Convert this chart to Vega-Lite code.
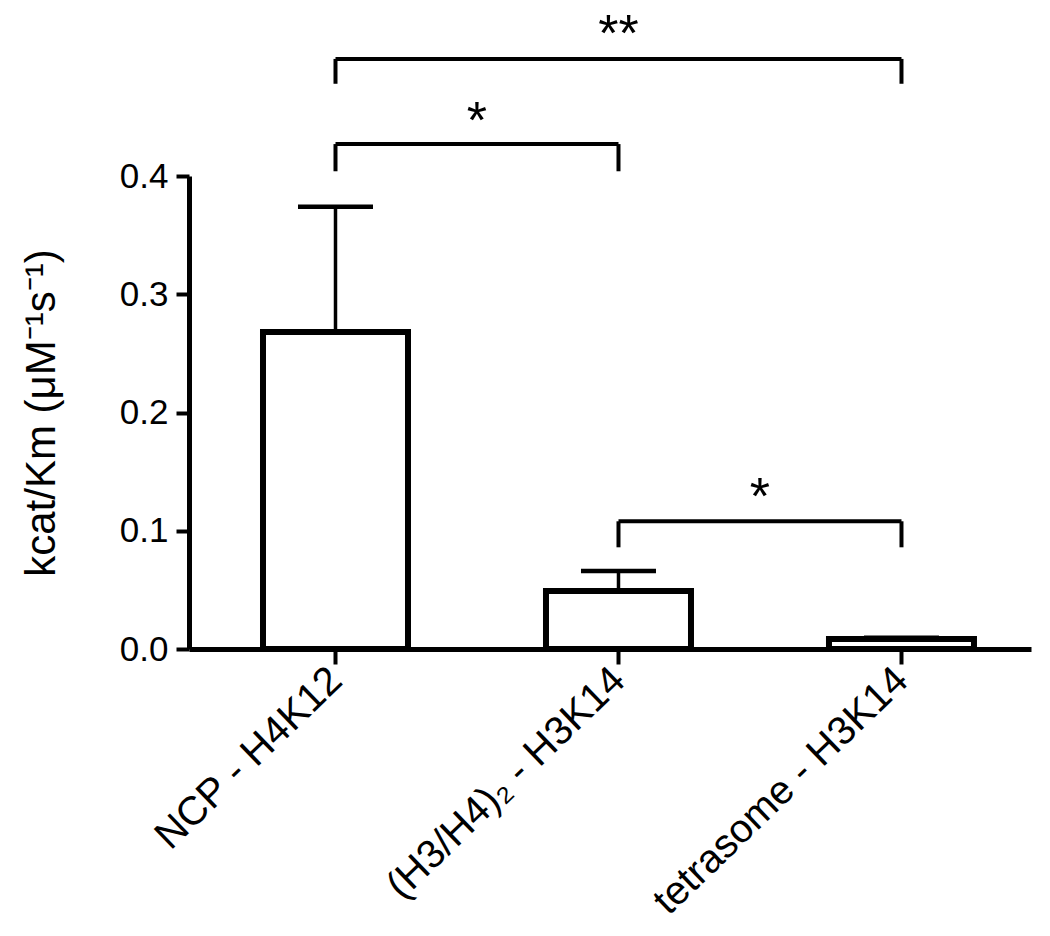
{
  "$schema": "https://vega.github.io/schema/vega-lite/v6.json",
  "width": 842,
  "height": 473,
  "padding": {"left": 20, "top": 8, "right": 5, "bottom": 5},
  "background": "white",
  "config": {"view": {"stroke": null}, "font": "Liberation Sans"},
  "datasets": {
    "bars": [
      {"idx": 1, "substrate": "NCP - H4K12", "mean": 0.268, "upper": 0.374},
      {"idx": 2, "substrate": "(H3/H4)₂ - H3K14", "mean": 0.049, "upper": 0.066},
      {"idx": 3, "substrate": "tetrasome - H3K14", "mean": 0.0085, "upper": 0.0095}
    ],
    "brackets": [
      {"from": 1, "to": 3, "mid": 2, "bar": 0.499, "foot": 0.478, "labelY": 0.506, "label": "**"},
      {"from": 1, "to": 2, "mid": 1.5, "bar": 0.427, "foot": 0.404, "labelY": 0.432, "label": "*"},
      {"from": 2, "to": 3, "mid": 2.5, "bar": 0.108, "foot": 0.086, "labelY": 0.114, "label": "*"}
    ]
  },
  "layer": [
    {
      "data": {"name": "bars"},
      "mark": {"type": "bar", "width": 145, "fill": "white", "stroke": "black", "strokeWidth": 6},
      "encoding": {
        "x": {
          "field": "idx", "type": "quantitative",
          "scale": {"domain": [0.5, 3.44], "nice": false, "zero": false},
          "axis": {
            "values": [1, 2, 3],
            "labelExpr": "datum.value == 1 ? 'NCP - H4K12' : datum.value == 2 ? '(H3/H4)₂ - H3K14' : 'tetrasome - H3K14'",
            "title": null,
            "grid": false,
            "domainColor": "black", "domainWidth": 5,
            "tickColor": "black", "tickWidth": 4, "tickSize": 15,
            "labelAngle": -44, "labelAlign": "right", "labelBaseline": "middle",
            "labelFontSize": 40, "labelColor": "black", "labelPadding": 10,
            "labelLimit": 500, "labelFont": "Liberation Sans"
          }
        },
        "y": {
          "field": "mean", "type": "quantitative",
          "scale": {"domain": [0, 0.4], "nice": false},
          "axis": {
            "values": [0, 0.1, 0.2, 0.3, 0.4],
            "format": ".1f",
            "title": "kcat/Km (μM⁻¹s⁻¹)",
            "titleFontSize": 42, "titleFontWeight": "normal", "titleColor": "black",
            "titleFont": "Liberation Sans", "titlePadding": 56,
            "grid": false,
            "domainColor": "black", "domainWidth": 5,
            "tickColor": "black", "tickWidth": 4, "tickSize": 13,
            "labelFontSize": 35, "labelColor": "black", "labelPadding": 8,
            "labelFont": "Liberation Sans"
          }
        }
      }
    },
    {
      "data": {"name": "bars"},
      "mark": {"type": "rule", "color": "black", "strokeWidth": 3.5},
      "encoding": {
        "x": {"field": "idx", "type": "quantitative"},
        "y": {"field": "mean", "type": "quantitative"},
        "y2": {"field": "upper"}
      }
    },
    {
      "data": {"name": "bars"},
      "mark": {"type": "tick", "orient": "horizontal", "color": "black", "opacity": 1, "size": 75, "thickness": 4.5},
      "encoding": {
        "x": {"field": "idx", "type": "quantitative"},
        "y": {"field": "upper", "type": "quantitative"}
      }
    },
    {
      "data": {"name": "brackets"},
      "mark": {"type": "rule", "color": "black", "strokeWidth": 4},
      "encoding": {
        "x": {"field": "from", "type": "quantitative"},
        "x2": {"field": "to"},
        "y": {"field": "bar", "type": "quantitative"}
      }
    },
    {
      "data": {"name": "brackets"},
      "mark": {"type": "rule", "color": "black", "strokeWidth": 4},
      "encoding": {
        "x": {"field": "from", "type": "quantitative"},
        "y": {"field": "foot", "type": "quantitative"},
        "y2": {"field": "bar"}
      }
    },
    {
      "data": {"name": "brackets"},
      "mark": {"type": "rule", "color": "black", "strokeWidth": 4},
      "encoding": {
        "x": {"field": "to", "type": "quantitative"},
        "y": {"field": "foot", "type": "quantitative"},
        "y2": {"field": "bar"}
      }
    },
    {
      "data": {"name": "brackets"},
      "mark": {"type": "text", "color": "black", "fontSize": 52, "baseline": "alphabetic", "align": "center", "font": "Liberation Sans"},
      "encoding": {
        "x": {"field": "mid", "type": "quantitative"},
        "y": {"field": "labelY", "type": "quantitative"},
        "text": {"field": "label"}
      }
    }
  ]
}
